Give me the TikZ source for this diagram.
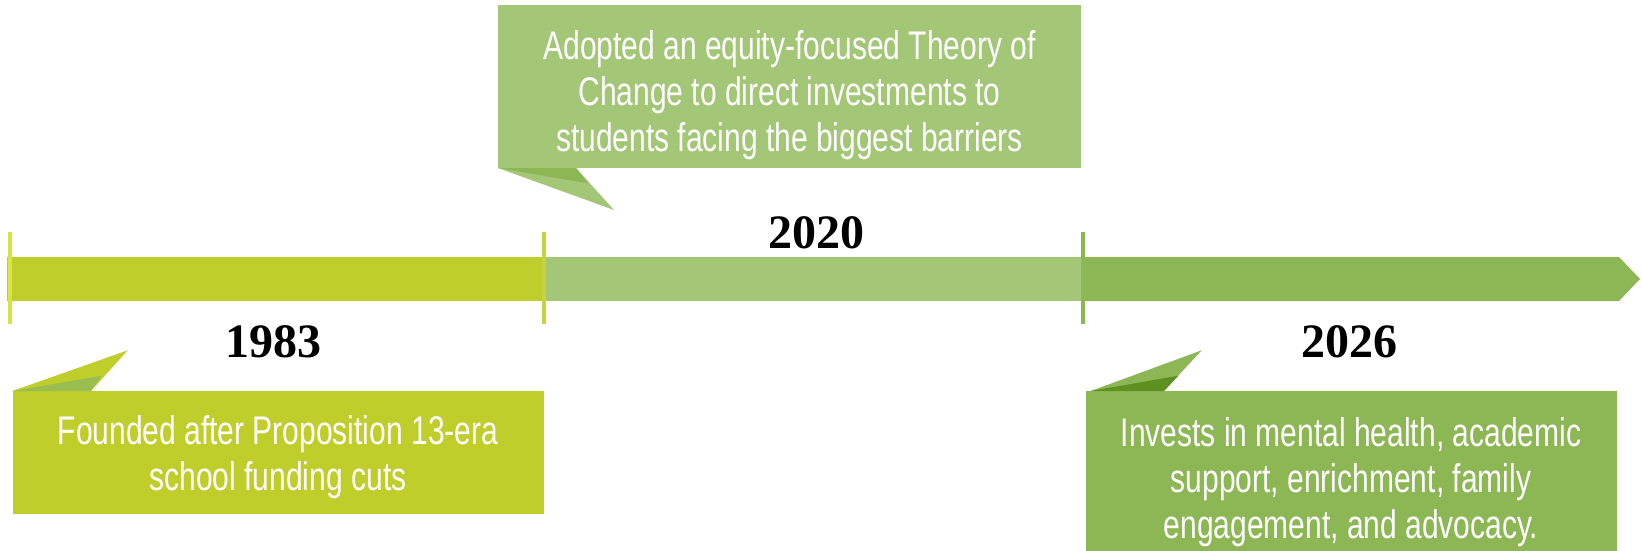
\documentclass[tikz,border=0pt]{standalone}
\usepackage{fontspec}
\newfontfamily\condfont{Liberation Sans}[FakeStretch=0.75]
\newfontfamily\yearfont{Liberation Serif}
\definecolor{cA}{RGB}{191,206,43}
\definecolor{cB}{RGB}{163,198,119}
\definecolor{cC}{RGB}{141,183,85}
\definecolor{foldA}{RGB}{155,190,80}
\definecolor{foldC}{RGB}{94,145,34}
\definecolor{tickA}{RGB}{214,230,64}
\definecolor{tickB}{RGB}{198,210,62}
\begin{document}
\begin{tikzpicture}[x=1pt,y=-1pt,
  box/.style={fill=#1, draw=none, inner sep=0pt, outer sep=0pt, anchor=north west},
  desc/.style={text=white, font=\condfont\fontsize{40}{46}\selectfont, align=center, inner sep=0pt},
  yearlab/.style={font=\yearfont\bfseries\fontsize{48}{50}\selectfont, text=black, inner sep=0pt},
  tickmark/.style={line width=4pt}]
\useasboundingbox (0,0) rectangle (1642,551);
% timeline bar
\fill[cA] (7,257) rectangle (544,301);
\fill[cB] (544,257) rectangle (1083,301);
\fill[cC] (1083,257) -- (1619,257) -- (1640,279) -- (1619,301) -- (1083,301) -- cycle;
% ticks
\coordinate (t1a) at (10,232); \coordinate (t1b) at (10,324);
\coordinate (t2a) at (544,232); \coordinate (t2b) at (544,324);
\coordinate (t3a) at (1083,232); \coordinate (t3b) at (1083,324);
\draw[tickmark, tickA] (t1a) -- (t1b);
\draw[tickmark, tickB] (t2a) -- (t2b);
\draw[tickmark, cC] (t3a) -- (t3b);
% years
\node[yearlab] (y1983) at (273,342) {1983};
\node[yearlab] (y2020) at (816,233) {2020};
\node[yearlab] (y2026) at (1349,342) {2026};
% boxes
\node[box=cA, minimum width=531pt, minimum height=123pt] (b1983) at (12.5,391) {};
\node[box=cB, minimum width=583pt, minimum height=163pt] (b2020) at (498,5) {};
\node[box=cC, minimum width=531pt, minimum height=162pt] (b2026) at (1086,391) {};
% callout tails
\fill[cA] (12.5,391) -- (127.7,350.3) -- (91,391) -- cycle;
\fill[foldA] (12.5,391) -- (101.7,375.7) -- (91,391) -- cycle;
\fill[cB] (498,168) -- (614,210) -- (576,168) -- cycle;
\fill[cC] (498,168) -- (588.3,183.3) -- (576,168) -- cycle;
\fill[cC] (1090.7,391) -- (1201.7,350.3) -- (1164,391) -- cycle;
\fill[foldC] (1090.7,391) -- (1178.3,375.7) -- (1164,391) -- cycle;
% texts
\node[desc] (d1983) at (278,457) {Founded after Proposition 13-era\\school funding cuts};
\node[desc] (d2020) at (789.5,95) {Adopted an equity-focused Theory of\\Change to direct investments to\\students facing the biggest barriers};
\node[desc] (d2026) at (1351,482) {Invests in mental health, academic\\support, enrichment, family\\engagement, and advocacy.};
\end{tikzpicture}
\end{document}
